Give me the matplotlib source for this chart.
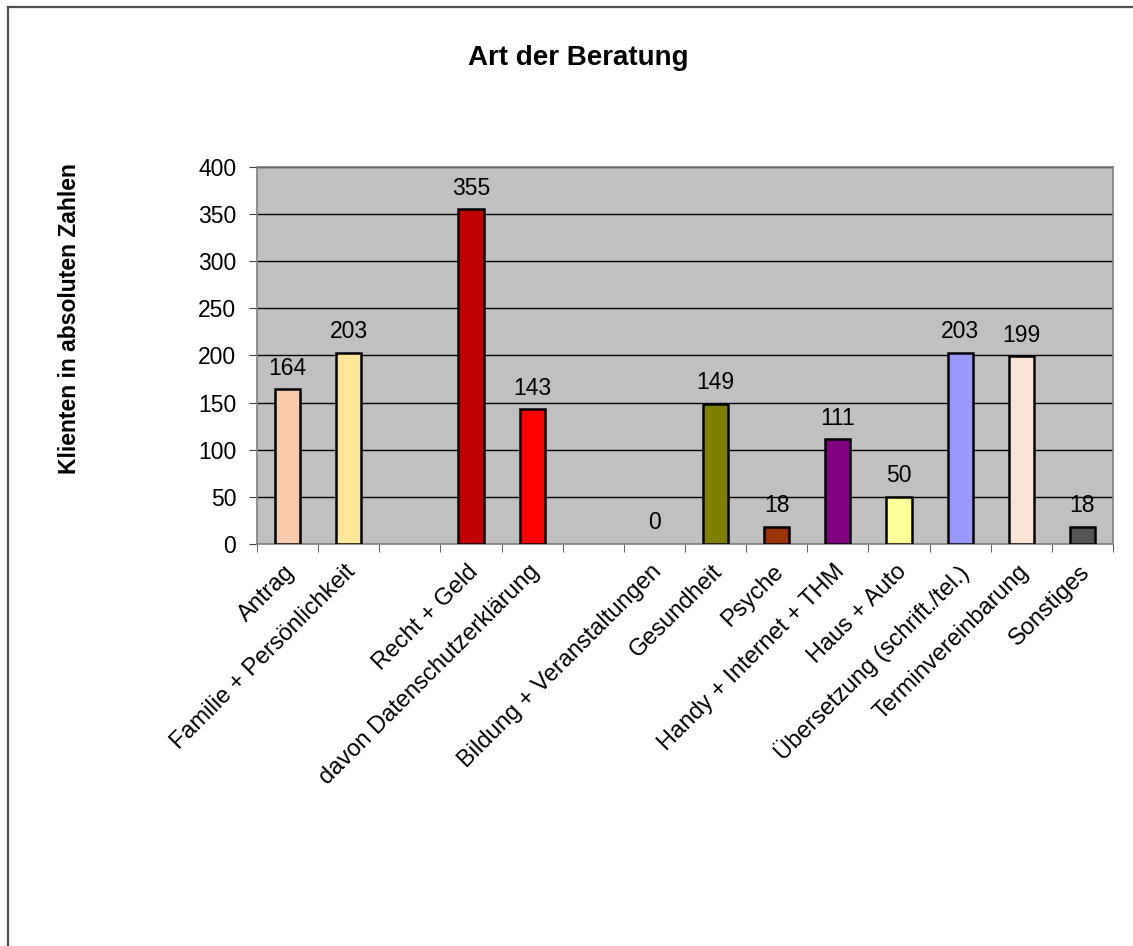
import numpy as np
import matplotlib
matplotlib.use("Agg")
import matplotlib.pyplot as plt
from matplotlib.lines import Line2D
from matplotlib.transforms import ScaledTranslation

plt.rcParams["font.family"] = ["Liberation Sans", "DejaVu Sans"]

# ---- data -------------------------------------------------------
categories = ["Antrag", "Familie + Persönlichkeit", "", "Recht + Geld",
              "davon Datenschutzerklärung", "", "Bildung + Veranstaltungen",
              "Gesundheit", "Psyche", "Handy + Internet + THM", "Haus + Auto",
              "Übersetzung (schrift./tel.)", "Terminvereinbarung", "Sonstiges"]
values = [164, 203, None, 355, 143, None, 0, 149, 18, 111, 50, 203, 199, 18]
colors = ["#F8CBAD", "#FFE699", None, "#C00000", "#FF0000", None, "#C0C0C0",
          "#808000", "#993300", "#800080", "#FFFF99", "#9999FF", "#FCE4D6",
          "#555555"]
y_ticks = [0, 50, 100, 150, 200, 250, 300, 350, 400]

# ---- figure -----------------------------------------------------
W, H = 1133, 946
fig = plt.figure(figsize=(W / 100, H / 100), dpi=100)
ax = fig.add_axes([257 / W, 1 - 544 / H, 856 / W, 377 / H])
ax.set_facecolor("#C0C0C0")

x = np.arange(len(categories))
for xi, v, c in zip(x, values, colors):
    if v is None:
        continue
    if v > 0:
        ax.bar(xi, v, width=0.41, color=c, edgecolor="black", linewidth=1.8,
               zorder=3)
    ax.annotate(str(v), (xi, v), xytext=(0, 7), textcoords="offset points",
                ha="center", va="bottom", fontsize=16.5, zorder=4)

ax.set_xlim(-0.5, len(categories) - 0.5)
ax.set_ylim(0, 400)
ax.set_yticks(y_ticks)
ax.yaxis.grid(True, color="black", linewidth=1.0, zorder=1)
ax.set_axisbelow(True)

for s in ax.spines.values():
    s.set_color("#808080")
    s.set_linewidth(1.2)

ax.tick_params(axis="y", direction="out", length=6, color="#404040",
               labelsize=16.5, pad=9)
ax.set_xticks(x)
ax.set_xticklabels(categories, rotation=45, ha="right",
                   rotation_mode="anchor", fontsize=17)
ax.tick_params(axis="x", which="major", length=0, pad=12)
shift = ScaledTranslation(-4 / 100, 0, fig.dpi_scale_trans)
for lbl in ax.get_xticklabels():
    lbl.set_transform(lbl.get_transform() + shift)
ax.set_xticks(np.arange(len(categories) + 1) - 0.5, minor=True)
ax.tick_params(axis="x", which="minor", direction="out", length=6,
               color="#404040")

fig.text(578 / W, 1 - 58 / H, "Art der Beratung", ha="center", va="center",
         fontsize=20, fontweight="bold")
fig.text(70 / W, 1 - 319 / H, "Klienten in absoluten Zahlen", ha="center",
         va="center", rotation=90, fontsize=16.5, fontweight="bold")

# outer frame (top and left edge only visible)
fig.add_artist(Line2D([8 / W, 1], [1 - 7 / H, 1 - 7 / H], color="#505050",
                      linewidth=1.6, transform=fig.transFigure))
fig.add_artist(Line2D([8 / W, 8 / W], [0, 1 - 7 / H], color="#505050",
                      linewidth=1.6, transform=fig.transFigure))

fig.savefig("out.png", dpi=100)
